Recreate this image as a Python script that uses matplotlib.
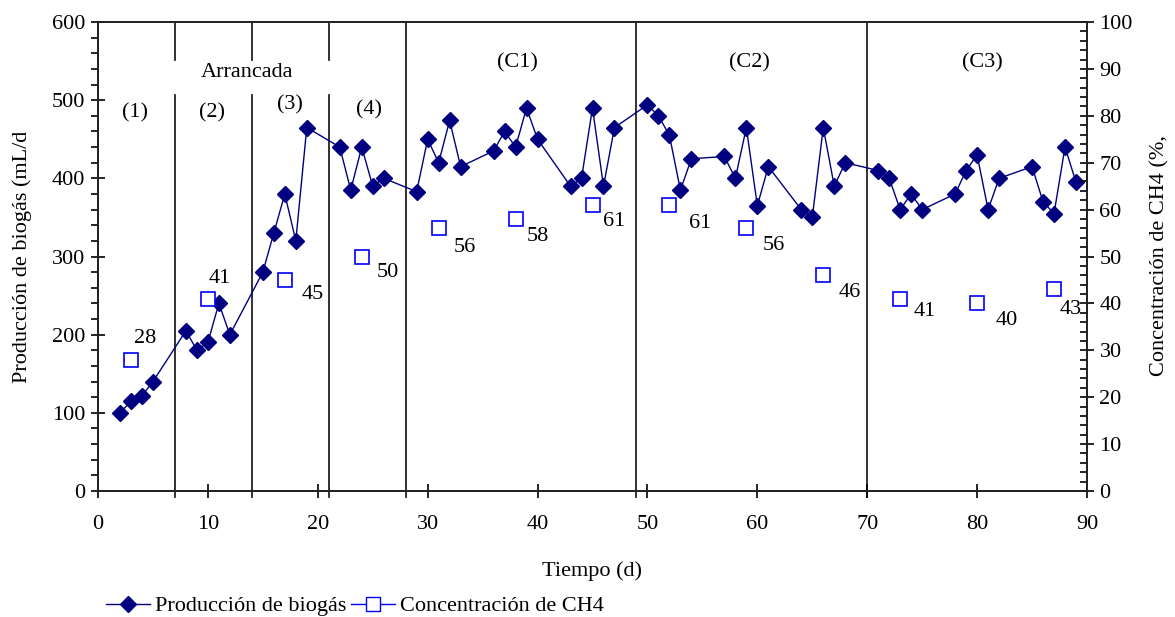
import matplotlib
matplotlib.use("Agg")
import matplotlib.pyplot as plt
from matplotlib.lines import Line2D
from matplotlib.ticker import MultipleLocator

plt.rcParams['font.family'] = ['Liberation Serif', 'DejaVu Serif']
FS = 16

# biogas production (mL/d)
dias = [2, 3, 4, 5, 8, 9, 10, 11, 12, 15, 16, 17, 18, 19, 22, 23, 24, 25, 26, 29,
        30, 31, 32, 33, 36, 37, 38, 39, 40, 43, 44, 45, 46, 47, 50, 51, 52, 53, 54,
        57, 58, 59, 60, 61, 64, 65, 66, 67, 68, 71, 72, 73, 74, 75, 78, 79, 80, 81,
        82, 85, 86, 87, 88, 89]
biogas = [100, 115, 122, 140, 205, 180, 190, 240, 200, 280, 330, 380, 320, 465,
          440, 385, 440, 390, 400, 383, 450, 420, 474, 415, 435, 460, 440, 490, 450,
          390, 400, 490, 390, 465, 494, 480, 455, 385, 425, 428, 400, 465, 365, 415,
          360, 350, 465, 390, 420, 410, 400, 360, 380, 360, 380, 410, 430, 360, 400,
          415, 370, 355, 440, 395]

# CH4 concentration (%)
dias_ch4 = [3, 10, 17, 24, 31, 38, 45, 52, 59, 66, 73, 80, 87]
ch4 = [28, 41, 45, 50, 56, 58, 61, 61, 56, 46, 41, 40, 43]
# label offsets in pixels (dx, dy)
off_ch4 = [(14, 21), (12, 20), (28, -15), (26, -16), (26, -19), (22, -18), (22, -17),
           (31, -19), (27, -17), (26, -17), (25, -13), (30, -17), (17, -20)]

cortes = [7, 14, 21, 28, 49, 70]
fases = ["(1)", "(2)", "(3)", "(4)", "(C1)", "(C2)", "(C3)"]
fases_x = [3.4, 10.4, 17.5, 24.7, 38.2, 59.3, 80.5]
fases_y = [484, 484, 494, 487, 548, 548, 548]

fig = plt.figure(figsize=(11.75, 6.17), dpi=100)
ax = fig.add_axes([98/1175, 1-491/617, (1087-98)/1175, (491-22)/617])
ax2 = ax.twinx()

ax.set_xlim(0, 90)
ax.set_ylim(0, 600)
ax2.set_ylim(0, 100)

# phase lines
for c in cortes:
    if c in (7, 14, 21):
        ax.plot([c, c], [-8, 507], color='#222222', lw=1.3, clip_on=False, zorder=1)
        ax.plot([c, c], [551, 600], color='#222222', lw=1.3, zorder=1)
    else:
        ax.plot([c, c], [-8, 600], color='#222222', lw=1.3, clip_on=False, zorder=1)

ax.text(13.6, 535, "Arrancada", ha='center', va='center', fontsize=FS)
for t, x, y in zip(fases, fases_x, fases_y):
    ax.text(x, y, t, ha='center', va='center', fontsize=FS)

ax.plot(dias, biogas, color='#000080', lw=1, marker='D', markersize=8,
        markerfacecolor='#000080', markeredgecolor='#000080', zorder=3)

ax2.plot(dias_ch4, ch4, ls='none', marker='s', markersize=10,
         markerfacecolor='white', markeredgecolor='#0000FF', markeredgewidth=1.2)
for x, y, (dx, dy) in zip(dias_ch4, ch4, off_ch4):
    ax2.annotate(str(y), (x, y), xytext=(dx, dy), textcoords='offset pixels',
                 ha='center', va='center', fontsize=FS)

# axes styling
for a in (ax, ax2):
    for s in a.spines.values():
        s.set_linewidth(1.3)
        s.set_color('#222222')

ax.xaxis.set_major_locator(MultipleLocator(10))
ax.tick_params(axis='x', direction='inout', length=10, width=1.2, labelsize=FS, pad=12)
ax.yaxis.set_major_locator(MultipleLocator(100))
ax.yaxis.set_minor_locator(MultipleLocator(20))
ax.tick_params(axis='y', which='major', direction='inout', length=10, width=1.2,
               labelsize=FS, pad=4)
ax.tick_params(axis='y', which='minor', direction='out', length=5, width=1.2)
ax2.yaxis.set_major_locator(MultipleLocator(10))
ax2.yaxis.set_minor_locator(MultipleLocator(2))
ax2.tick_params(axis='y', which='major', direction='inout', length=10, width=1.2,
                labelsize=FS, pad=4)
ax2.tick_params(axis='y', which='minor', direction='in', length=5, width=1.2)

ax.set_xlabel("Tiempo (d)", fontsize=FS, labelpad=20)
fig.text(22/1175, 1-257/617, "Producción de biogás (mL/d", rotation=90,
         ha='center', va='center', fontsize=FS)
fig.text(1160/1175, 1-256/617, "Concentración de CH4 (%,", rotation=90,
         ha='center', va='center', fontsize=FS)

handles = [Line2D([], [], color='#000080', lw=1, marker='D', markersize=8,
                  markerfacecolor='#000080'),
           Line2D([], [], color='#0000FF', lw=1, marker='s', markersize=10,
                  markerfacecolor='white', markeredgecolor='#0000FF')]
fig.legend(handles, ["Producción de biogás", "Concentración de CH4"],
           loc='center left', bbox_to_anchor=(106/1175, 1-606/617), ncol=2,
           frameon=False, fontsize=FS, handlelength=2.0, handletextpad=0.2,
           columnspacing=0.2, borderaxespad=0, borderpad=0)

fig.savefig("out.png", dpi=100)
